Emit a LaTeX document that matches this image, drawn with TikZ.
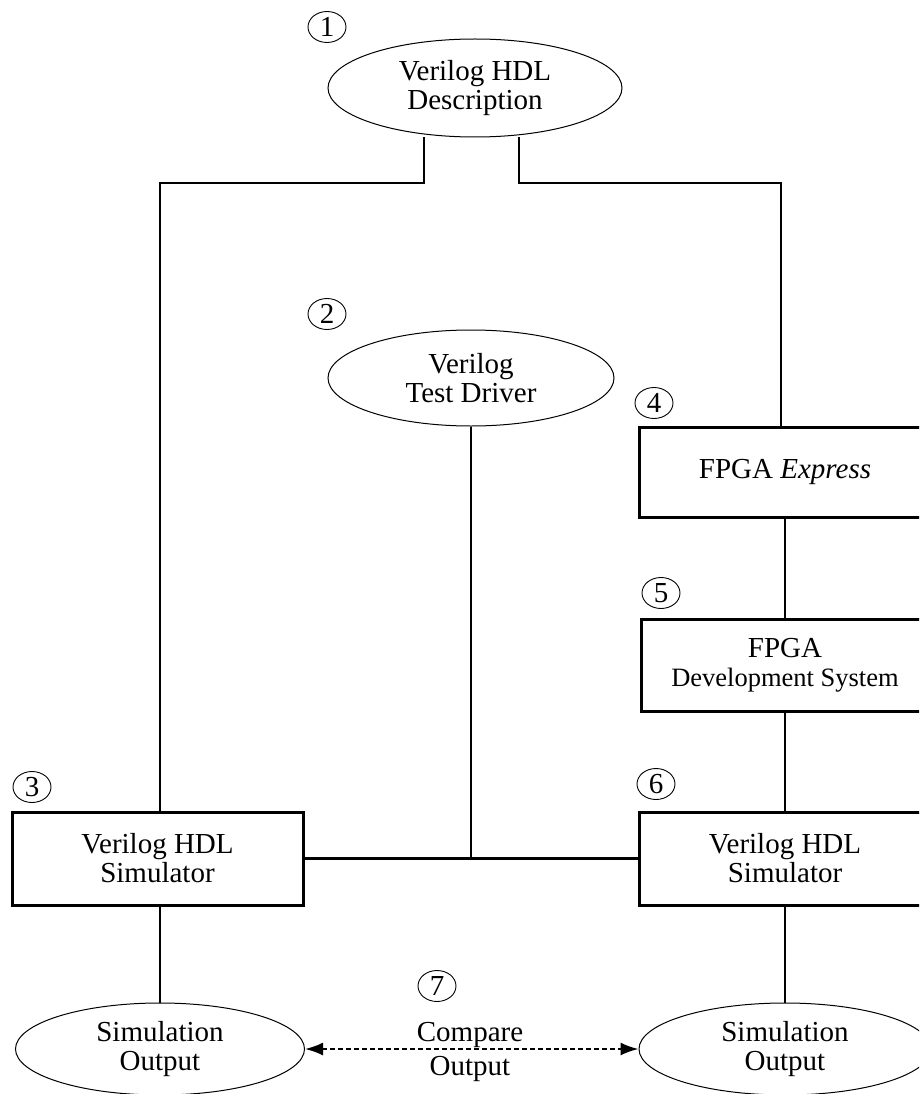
\documentclass[tikz,border=0pt]{standalone}
\usepackage{fontspec}
\setmainfont{Liberation Serif}
\usetikzlibrary{shapes.geometric,arrows.meta}
\begin{document}
\begin{tikzpicture}[x=1pt,y=-1pt,
  txt/.style={font=\fontsize{29}{29}\selectfont, align=center, inner sep=0pt},
  oval/.style={txt, draw, ellipse, line width=1pt, minimum width=292pt, minimum height=96pt},
  box/.style={txt, draw, rectangle, line width=3pt, minimum height=92pt},
  num/.style={draw, ellipse, line width=0.9pt, minimum width=38pt, minimum height=31pt, inner sep=0pt, font=\fontsize{29}{29}\selectfont},
  wire/.style={line width=2.2pt},
  cmp/.style={line width=2pt, dash pattern=on 5pt off 3pt, {Latex[length=18pt,width=13pt]}-{Latex[length=18pt,width=13pt]}}
]
\clip (0,0) rectangle (919,1094);
\fill[white] (0,0) rectangle (919,1094);

% nodes
\node[oval, minimum width=294pt, minimum height=98pt] (desc) at (475,88) {Verilog HDL\\Description};
\node[oval, minimum width=286pt, minimum height=96pt] (drv) at (471,378) {Verilog\\Test Driver};
\node[box, minimum width=292pt, minimum height=90pt] (fx) at (785,472) {FPGA \textit{Express}};
\node[box, minimum width=288pt, minimum height=92pt] (fds) at (785,665) {FPGA\\{\fontsize{26.5}{29}\selectfont Development System}};
\node[box, minimum width=291pt, minimum height=93pt] (sim1) at (157.5,858.5) {Verilog HDL\\Simulator};
\node[box, minimum width=292pt, minimum height=93pt] (sim2) at (785,858.5) {Verilog HDL\\Simulator};
\node[oval, minimum width=289pt, minimum height=92pt] (out1) at (160,1049) {Simulation\\Output};
\node[oval, minimum width=292pt, minimum height=92pt] (out2) at (785,1049) {Simulation\\Output};
\node[txt] (cmpA) at (470,1035) {Compare};
\node[txt] (cmpB) at (470,1069) {Output};

% step numbers
\node[num] (n1) at (327,27) {1};
\node[num] (n2) at (327,314) {2};
\node[num] (n3) at (32,787) {3};
\node[num] (n4) at (654,403) {4};
\node[num] (n5) at (661,593) {5};
\node[num] (n6) at (656,784) {6};
\node[num] (n7) at (437,986) {7};

% junction coordinates
\coordinate (jl) at (424,183);
\coordinate (jr) at (519,183);
\coordinate (jt) at (781,183);

% connectors
\draw[wire] (desc.south -| jl) -- (jl) -- (jl -| out1.north) -- (out1.north |- sim1.north);
\draw[wire] (desc.south -| jr) -- (jr) -- (jt) -- (jt |- fx.north);
\draw[wire] (drv.south) -- (drv.south |- sim1.east);
\draw[wire] (sim1.east) -- (sim2.west);
\draw[wire] (fx.south) -- (fds.north);
\draw[wire] (fds.south) -- (sim2.north);
\draw[wire] (out1.north |- sim1.south) -- (out1.north);
\draw[wire] (sim2.south) -- (out2.north);
\draw[cmp] (out1.east) -- (out2.west);
\end{tikzpicture}
\end{document}
